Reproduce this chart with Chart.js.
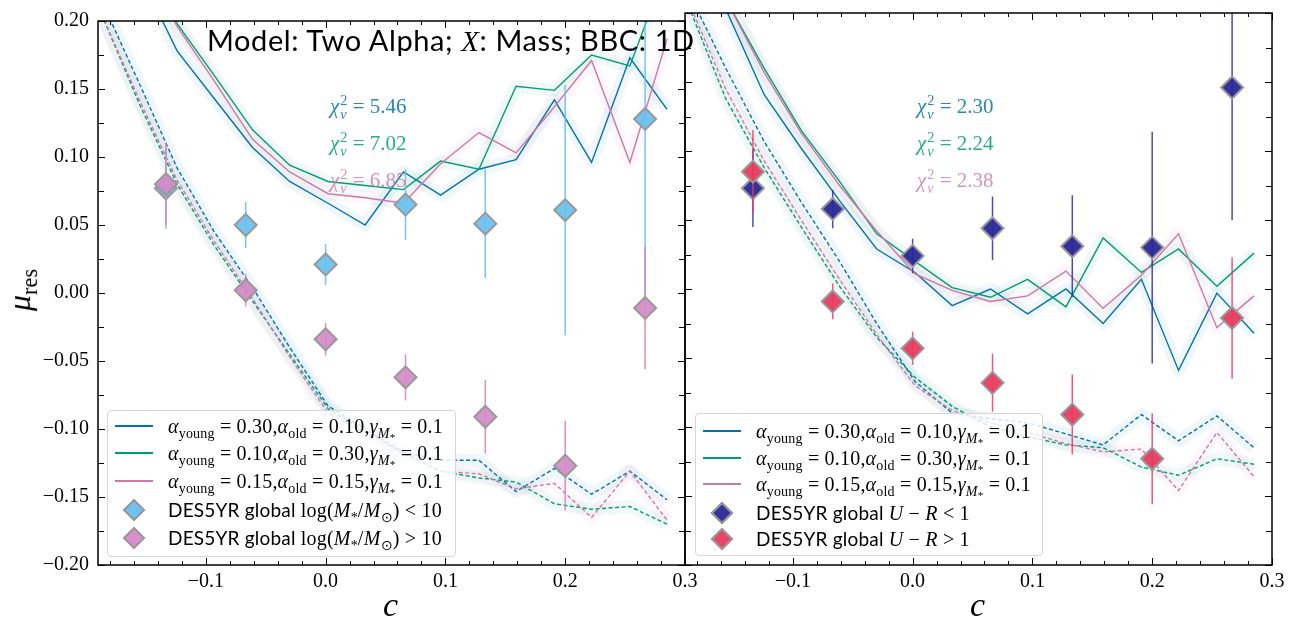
<!DOCTYPE html>
<html lang="en">
<head>
<meta charset="UTF-8">
<title>mu_res vs c</title>
<script src="https://cdn.jsdelivr.net/npm/chart.js"></script>
<style>
  body { margin: 0; background: #fff; }
  #wrap { position: relative; width: 1301px; height: 627px; overflow: hidden; }
  canvas { position: absolute; top: 0; }
  #leftChart { left: 0; }
  #rightChart { left: 665px; }
  .txt { position: absolute; white-space: nowrap; line-height: 1; transform: translateY(-50%); }
  .serif { font-family: 'Liberation Serif', serif; }
  .sans { font-family: Lato, 'Open Sans', sans-serif; }
  i { font-style: italic; }
  sub, sup { font-size: 0.7em; line-height: 0; }
  .ss { display: inline-block; vertical-align: middle; font-size: 0.68em; line-height: 0.95; margin-left: 1px; }
  .ss span { display: block; }
  .legend { position: absolute; background: rgba(255,255,255,0.82); border: 1px solid #d6d6d6; border-radius: 4px; box-sizing: border-box; }
  .row { position: absolute; left: 0; right: 0; height: 26px; }
  .sw { position: absolute; left: 7px; width: 38px; top: 12px; height: 2px; }
  .dia { position: absolute; left: 18px; top: 5px; width: 12px; height: 12px; transform: rotate(45deg); border: 2px solid #999; }
  .lt { position: absolute; left: 60px; top: 13px; font-size: 20px; letter-spacing: 0.2px; }
</style>
</head>
<body>
<div id="wrap">
  <canvas id="leftChart" width="710" height="627"></canvas>
  <canvas id="rightChart" width="636" height="627"></canvas>

  <div class="txt sans" style="left:207px; top:40px; font-size:29px; letter-spacing:0.6px;">Model: Two Alpha; <i class="serif">X</i>: Mass; BBC: 1D</div>

  <div class="txt serif" style="left:-2px; top:290px; font-size:32px; transform: translate(0,-50%) rotate(-90deg); transform-origin: 50% 50%;"><i>μ</i><sub>res</sub></div>
  <div class="txt serif" style="left:383px; top:605px; font-size:34px;"><i>c</i></div>
  <div class="txt serif" style="left:970px; top:605px; font-size:34px;"><i>c</i></div>

  <div id="chiLeft"></div>
  <div id="chiRight"></div>

  <div class="legend" id="legLeft" style="left:107px; top:410px; width:349px; height:147px;"></div>
  <div class="legend" id="legRight" style="left:695px; top:413px; width:348px; height:143px;"></div>
</div>

<script>
  // model curve bin centres
  const xModel = [-0.187, -0.156, -0.124, -0.093, -0.061, -0.030, 0.002, 0.033, 0.065, 0.096, 0.128, 0.159, 0.191, 0.222, 0.254, 0.285];

  // left panel (host mass split)
  const solidBlueL  = [0.300, 0.236, 0.178, 0.143, 0.107, 0.082, 0.066, 0.050, 0.089, 0.072, 0.091, 0.098, 0.142, 0.096, 0.173, 0.135];
  const solidGreenL = [0.320, 0.250, 0.198, 0.160, 0.120, 0.094, 0.082, 0.079, 0.076, 0.097, 0.091, 0.152, 0.149, 0.175, 0.167, 0.240];
  const solidPinkL  = [0.320, 0.250, 0.196, 0.156, 0.113, 0.089, 0.073, 0.070, 0.066, 0.095, 0.118, 0.103, 0.137, 0.171, 0.096, 0.187];
  const dashBlueL   = [0.215, 0.155, 0.092, 0.045, 0.004, -0.040, -0.083, -0.100, -0.117, -0.123, -0.123, -0.146, -0.129, -0.148, -0.131, -0.152];
  const dashGreenL  = [0.205, 0.140, 0.080, 0.035, -0.006, -0.045, -0.085, -0.102, -0.118, -0.131, -0.136, -0.139, -0.155, -0.159, -0.157, -0.170];
  const dashPinkL   = [0.205, 0.143, 0.083, 0.038, -0.004, -0.047, -0.088, -0.103, -0.117, -0.131, -0.133, -0.144, -0.140, -0.165, -0.131, -0.167];

  // right panel (U-R split)
  const solidBlueR  = [0.300, 0.203, 0.141, 0.102, 0.064, 0.029, 0.012, -0.012, 0.000, -0.018, 0.000, -0.025, 0.007, -0.059, -0.003, -0.032];
  const solidGreenR = [0.320, 0.210, 0.160, 0.115, 0.078, 0.040, 0.020, 0.001, -0.006, 0.007, -0.013, 0.037, 0.012, 0.029, 0.002, 0.026];
  const solidPinkR  = [0.320, 0.210, 0.157, 0.113, 0.075, 0.042, 0.011, -0.001, -0.009, -0.005, 0.013, -0.014, 0.010, 0.040, -0.028, -0.005];
  const dashBlueR   = [0.215, 0.160, 0.107, 0.063, 0.020, -0.025, -0.067, -0.090, -0.094, -0.097, -0.105, -0.113, -0.091, -0.110, -0.092, -0.115];
  const dashGreenR  = [0.205, 0.138, 0.088, 0.045, 0.002, -0.035, -0.064, -0.085, -0.100, -0.107, -0.113, -0.115, -0.129, -0.135, -0.123, -0.127];
  const dashPinkR   = [0.208, 0.145, 0.093, 0.050, 0.007, -0.033, -0.070, -0.088, -0.097, -0.104, -0.112, -0.118, -0.116, -0.146, -0.104, -0.136];

  // DES5YR binned data
  const xData = [-0.1333, -0.0667, 0, 0.0667, 0.1333, 0.2, 0.2667];
  const lowMassY    = [0.077, 0.050, 0.021, 0.065, 0.051, 0.061, 0.128];
  const lowMassErr  = [0.030, 0.017, 0.015, 0.026, 0.040, 0.092, 0.130];
  const highMassY   = [0.080, 0.002, -0.034, -0.062, -0.091, -0.127, -0.011];
  const highMassErr = [0.030, 0.012, 0.012, 0.017, 0.027, 0.033, 0.045];
  const blueURY     = [0.073, 0.058, 0.024, 0.044, 0.031, 0.030, 0.146];
  const blueURErr   = [0.028, 0.014, 0.0125, 0.023, 0.037, 0.084, 0.096];
  const redURY      = [0.085, -0.009, -0.043, -0.068, -0.091, -0.123, -0.021];
  const redURErr    = [0.030, 0.013, 0.012, 0.021, 0.029, 0.033, 0.044];

  const chiLeft  = ['5.46', '7.02', '6.85'];
  const chiRight = ['2.30', '2.24', '2.38'];
  const modelLabels = [
    ['0.30', '0.10'],
    ['0.10', '0.30'],
    ['0.15', '0.15']
  ];

  const xTicks = [-0.1, 0.0, 0.1, 0.2, 0.3];
  const yTicks = [-0.2, -0.15, -0.1, -0.05, 0, 0.05, 0.1, 0.15, 0.2];

  const BLUE = '#0072B2', GREEN = '#009E73', PINK = '#CC79A7';
  const BAND = ['rgba(0,114,178,0.06)', 'rgba(0,158,115,0.06)', 'rgba(204,121,167,0.06)'];

  function pts(ys) { return xModel.map((x, i) => ({ x, y: ys[i] })); }

  function errPts(ys, es) {
    const out = [];
    xData.forEach((x, i) => {
      out.push({ x, y: ys[i] - es[i] }, { x, y: ys[i] + es[i] }, { x, y: null });
    });
    return out;
  }

  function fmt(v, d) {
    const s = Math.abs(v).toFixed(d);
    return (v < -1e-9 ? '\u2212' : '') + s;
  }

  const framePlugin = {
    id: 'frame',
    afterDatasetsDraw(chart) {
      const { ctx, chartArea: a, scales } = chart;
      const x = scales.x, y = scales.y;
      ctx.save();
      ctx.strokeStyle = '#000';
      ctx.lineWidth = 1;
      ctx.beginPath();
      for (let k = -10; k <= 15; k++) {
        const v = k * 0.02;
        if (v < x.min - 1e-9 || v > x.max + 1e-9) continue;
        const px = Math.round(x.getPixelForValue(v)) + 0.5;
        const len = (k % 5 === 0) ? 7 : 4;
        ctx.moveTo(px, a.bottom); ctx.lineTo(px, a.bottom - len);
        ctx.moveTo(px, a.top); ctx.lineTo(px, a.top + len);
      }
      for (let k = -8; k <= 8; k++) {
        const v = k * 0.025;
        const py = Math.round(y.getPixelForValue(v)) + 0.5;
        const len = (k % 2 === 0) ? 7 : 6;
        ctx.moveTo(a.left, py); ctx.lineTo(a.left + len, py);
        ctx.moveTo(a.right, py); ctx.lineTo(a.right - len, py);
      }
      ctx.stroke();
      ctx.lineWidth = 1.5;
      ctx.strokeRect(a.left, a.top, a.right - a.left, a.bottom - a.top);
      ctx.restore();
    }
  };

  function makePanel(id, o) {
    const lineDs = (data, color, dash) => ({
      data: pts(data), showLine: true, borderColor: color, borderWidth: 1.4,
      borderDash: dash ? [4, 2.5] : [], pointRadius: 0, tension: 0
    });
    const bandDs = (data, color) => ({
      data: pts(data), showLine: true, borderColor: color, borderWidth: 13,
      pointRadius: 0, tension: 0, borderJoinStyle: 'round'
    });
    const errDs = (ys, es, color) => ({
      data: errPts(ys, es), showLine: true, spanGaps: false, borderColor: color,
      borderWidth: 1.5, pointRadius: 0
    });
    const diaDs = (ys, color) => ({
      data: xData.map((x, i) => ({ x, y: ys[i] })), showLine: false, pointStyle: 'rectRot',
      pointRadius: 11, pointBackgroundColor: color, pointBorderColor: '#999', pointBorderWidth: 2,
      clip: false
    });

    // bottom to top, then reversed because Chart.js paints index 0 last
    const ds = [
      bandDs(o.solid[0], BAND[0]), bandDs(o.solid[1], BAND[1]), bandDs(o.solid[2], BAND[2]),
      bandDs(o.dash[0], BAND[0]), bandDs(o.dash[1], BAND[1]), bandDs(o.dash[2], BAND[2]),
      lineDs(o.solid[0], BLUE), lineDs(o.solid[1], GREEN), lineDs(o.solid[2], PINK),
      lineDs(o.dash[0], BLUE, true), lineDs(o.dash[1], GREEN, true), lineDs(o.dash[2], PINK, true),
      errDs(o.pts[0].y, o.pts[0].e, o.pts[0].bar), diaDs(o.pts[0].y, o.pts[0].fill),
      errDs(o.pts[1].y, o.pts[1].e, o.pts[1].bar), diaDs(o.pts[1].y, o.pts[1].fill)
    ].reverse();

    return new Chart(document.getElementById(id), {
      type: 'scatter',
      data: { datasets: ds },
      options: {
        responsive: false,
        animation: false,
        events: [],
        layout: { padding: { left: 0, right: o.padRight, top: 12, bottom: 0 } },
        plugins: { legend: { display: false }, tooltip: { enabled: false } },
        scales: {
          x: {
            type: 'linear', min: -0.19, max: 0.3,
            grid: { display: false, drawTicks: false }, border: { display: false },
            afterBuildTicks: s => { s.ticks = xTicks.map(v => ({ value: v })); },
            afterFit: s => { s.height = 62; },
            ticks: {
              padding: 5, color: '#000',
              font: { family: "'Liberation Serif', serif", size: 20 },
              callback: v => fmt(v, 1)
            }
          },
          y: {
            type: 'linear', min: -0.2, max: 0.2,
            grid: { display: false, drawTicks: false }, border: { display: false },
            afterBuildTicks: s => { s.ticks = yTicks.map(v => ({ value: v })); },
            afterFit: s => { s.width = o.yWidth; },
            ticks: {
              display: o.yLabels, padding: 9, color: '#000',
              font: { family: "'Liberation Serif', serif", size: 20 },
              callback: v => fmt(v, 2)
            }
          }
        }
      },
      plugins: [framePlugin]
    });
  }

  makePanel('leftChart', {
    padRight: 25, yWidth: 98, yLabels: true,
    solid: [solidBlueL, solidGreenL, solidPinkL],
    dash: [dashBlueL, dashGreenL, dashPinkL],
    pts: [
      { y: lowMassY, e: lowMassErr, fill: 'rgba(104,192,240,0.92)', bar: 'rgba(104,192,240,0.9)' },
      { y: highMassY, e: highMassErr, fill: 'rgba(214,138,200,0.92)', bar: 'rgba(214,130,196,0.9)' }
    ]
  });

  makePanel('rightChart', {
    padRight: 29, yWidth: 20, yLabels: false,
    solid: [solidBlueR, solidGreenR, solidPinkR],
    dash: [dashBlueR, dashGreenR, dashPinkR],
    pts: [
      { y: blueURY, e: blueURErr, fill: 'rgba(40,40,150,0.95)', bar: 'rgba(45,45,160,0.85)' },
      { y: redURY, e: redURErr, fill: 'rgba(232,60,95,0.95)', bar: 'rgba(232,60,95,0.85)' }
    ]
  });

  // chi^2 annotations
  function chiBlock(el, left, vals) {
    const cols = ['rgba(0,114,178,0.85)', 'rgba(0,158,115,0.85)', 'rgba(204,121,167,0.8)'];
    const tops = [108, 145, 182];
    el.innerHTML = vals.map((v, i) =>
      `<div class="txt serif" style="left:${left}px; top:${tops[i]}px; font-size:21px; color:${cols[i]};">` +
      `<i>χ</i><span class="ss"><span>2</span><span><i>ν</i></span></span> = ${v}</div>`
    ).join('');
  }
  chiBlock(document.getElementById('chiLeft'), 330, chiLeft);
  chiBlock(document.getElementById('chiRight'), 917, chiRight);

  // legends
  function legend(el, rowTops, dataRows) {
    const lineCols = [BLUE, GREEN, PINK];
    let html = '';
    modelLabels.forEach((m, i) => {
      html += `<div class="row" style="top:${rowTops[i]}px;"><div class="sw" style="background:${lineCols[i]};"></div>` +
        `<div class="lt serif" style="transform:translateY(-50%);"><i>α</i><sub>young</sub> = ${m[0]},<i>α</i><sub>old</sub> = ${m[1]},<i>γ</i><sub><i>M</i><sub style="font-size:0.8em">*</sub></sub> = 0.1</div></div>`;
    });
    dataRows.forEach((d, j) => {
      html += `<div class="row" style="top:${rowTops[3 + j]}px;"><div class="dia" style="background:${d.fill};"></div>` +
        `<div class="lt" style="transform:translateY(-50%);"><span class="sans" style="font-size:19px;">DES5YR global </span><span class="serif">${d.label}</span></div></div>`;
    });
    el.innerHTML = html;
  }
  legend(document.getElementById('legLeft'), [2, 29, 57, 86, 114], [
    { fill: 'rgba(104,192,240,0.95)', label: 'log(<i>M</i><sub>*</sub>/<i>M</i><sub>⊙</sub>) &lt; 10' },
    { fill: 'rgba(214,138,200,0.95)', label: 'log(<i>M</i><sub>*</sub>/<i>M</i><sub>⊙</sub>) &gt; 10' }
  ]);
  legend(document.getElementById('legRight'), [4, 31, 57, 86, 112], [
    { fill: 'rgba(40,40,150,0.95)', label: '<i>U</i> − <i>R</i> &lt; 1' },
    { fill: 'rgba(232,60,95,0.95)', label: '<i>U</i> − <i>R</i> &gt; 1' }
  ]);
</script>
</body>
</html>
